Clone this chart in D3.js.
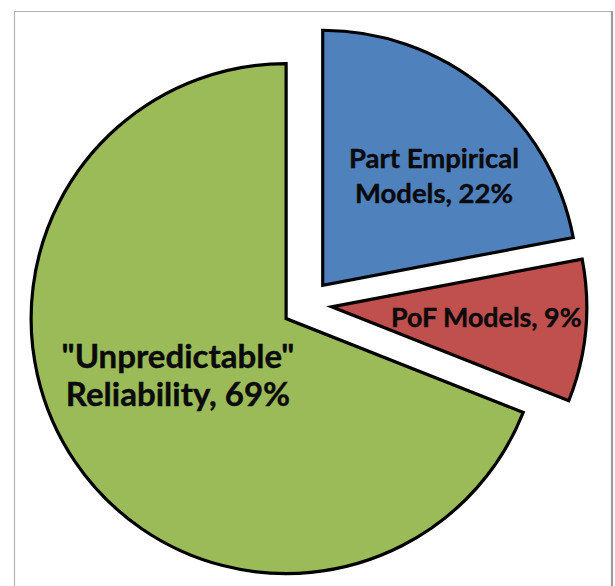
<!DOCTYPE html>
<html>
<head>
<meta charset="utf-8">
<script src="https://cdn.jsdelivr.net/npm/d3@7"></script>
<style>
  html, body { margin: 0; padding: 0; background: #fff; }
  svg { display: block; }
</style>
</head>
<body>
<svg id="chart" width="615" height="586"></svg>
<script>
// ---- data ----
const categories = ["Part Empirical Models", "PoF Models", "\"Unpredictable\" Reliability"];
const values = [22, 9, 69];
const labelLines = [["Part Empirical", "Models, 22%"], ["PoF Models, 9%"], ["\"Unpredictable\"", "Reliability, 69%"]];
const colors = ["#4F81BD", "#C0504D", "#9BBB59"];

// ---- layout ----
const W = 615, H = 586;
const cx = 306.8, cy = 304.5, R = 255, explode = 25;
const labelRadius = [156, 155, 122];
const labelShiftDeg = [5.9, -1.7, 6.6];
const fontSizes = [27.5, 26.8, 33];
const lineHeights = [35, 35, 38];

const svg = d3.select("#chart");

// frame
svg.append("line").attr("x1", 14.5).attr("y1", 11).attr("x2", 14.5).attr("y2", H)
  .attr("stroke", "#b4b4b4").attr("stroke-width", 1.2);
svg.append("line").attr("x1", 14).attr("y1", 11.5).attr("x2", 612).attr("y2", 11.5)
  .attr("stroke", "#b4b4b4").attr("stroke-width", 1.2);
svg.append("line").attr("x1", 612).attr("y1", 11).attr("x2", 612).attr("y2", H)
  .attr("stroke", "#9a9a9a").attr("stroke-width", 2.2);

const pie = d3.pie().sort(null).value(d => d)(values);
const arc = d3.arc().innerRadius(0).outerRadius(R);

const g = svg.append("g").attr("transform", `translate(${cx},${cy})`);

function offset(d, dist) {
  const a = (d.startAngle + d.endAngle) / 2;
  return [dist * Math.sin(a), -dist * Math.cos(a)];
}

const slices = g.selectAll("g.slice").data(pie).enter().append("g")
  .attr("class", "slice")
  .attr("transform", d => { const o = offset(d, explode); return `translate(${o[0]},${o[1]})`; });

slices.append("path")
  .attr("d", arc)
  .attr("fill", (d, i) => colors[i])
  .attr("stroke", "#000")
  .attr("stroke-width", 3.2)
  .attr("stroke-linejoin", "miter");

slices.each(function(d, i) {
  const a = (d.startAngle + d.endAngle) / 2 + labelShiftDeg[i] * Math.PI / 180;
  const lx = labelRadius[i] * Math.sin(a);
  const ly = -labelRadius[i] * Math.cos(a);
  const lines = labelLines[i];
  const fs = fontSizes[i], lh = lineHeights[i];
  const t = d3.select(this).append("text")
    .attr("text-anchor", "middle")
    .attr("font-family", "Lato, 'Open Sans', sans-serif")
    .attr("font-weight", 700)
    .attr("font-size", fs)
    .attr("fill", "#0a0a0a")
    .attr("stroke", "#0a0a0a")
    .attr("stroke-width", 0.4);
  lines.forEach((ln, k) => {
    t.append("tspan")
      .attr("x", lx)
      .attr("y", ly + (k - (lines.length - 1) / 2) * lh + fs * 0.36)
      .text(ln);
  });
});
</script>
</body>
</html>
